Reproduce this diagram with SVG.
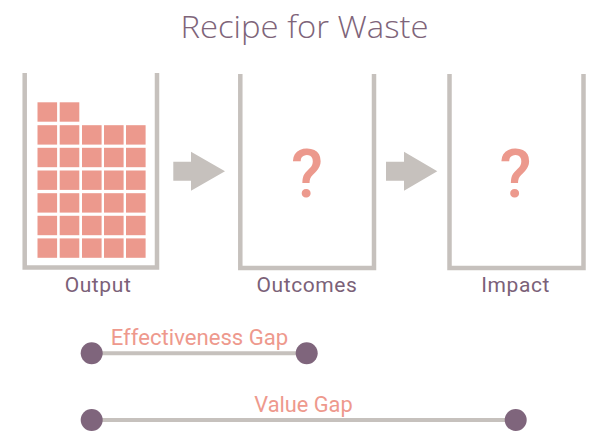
<svg xmlns="http://www.w3.org/2000/svg" width="615" height="444" viewBox="0 0 615 444">
<style>
.box{fill:none;stroke:#C6C1BD;stroke-width:4.5}
.sq{fill:#EC998D}
.arr{fill:#C6C1BD}
.lbl{font-family:Roboto,"Liberation Sans",sans-serif;font-size:21px;fill:#7B6178;text-anchor:middle;letter-spacing:0.6px;font-weight:400}
.q{font-family:Roboto,"Liberation Sans",sans-serif;font-size:66px;fill:#EC998D;text-anchor:middle;font-weight:500}
.gapt{font-family:Roboto,"Liberation Sans",sans-serif;font-size:22.5px;fill:#EE998D;font-weight:400}
.gl{stroke:#C6C1BD;stroke-width:4}
.dot{fill:#7F657C}
</style>
<rect width="615" height="444" fill="#FFFFFF"/>
<text x="304.5" y="37.7" font-family="'Open Sans',Lato,sans-serif" font-weight="300" font-size="31.5" fill="#7E6479" text-anchor="middle" textLength="248" lengthAdjust="spacingAndGlyphs">Recipe for Waste</text>

<g id="output">
<path class="box" d="M24.7,73 V267.5 H157 V73"/>
<g>
<rect class="sq" x="37.5" y="102.3" width="19.6" height="19.4"/>
<rect class="sq" x="59.7" y="102.3" width="19.6" height="19.4"/>
</g>
<g id="grid">
<rect class="sq" x="37.5" y="125.2" width="19.6" height="19.4"/><rect class="sq" x="59.7" y="125.2" width="19.6" height="19.4"/><rect class="sq" x="82" y="125.2" width="19.6" height="19.4"/><rect class="sq" x="104" y="125.2" width="19.6" height="19.4"/><rect class="sq" x="126" y="125.2" width="19.6" height="19.4"/>
<rect class="sq" x="37.5" y="147.8" width="19.6" height="19.4"/><rect class="sq" x="59.7" y="147.8" width="19.6" height="19.4"/><rect class="sq" x="82" y="147.8" width="19.6" height="19.4"/><rect class="sq" x="104" y="147.8" width="19.6" height="19.4"/><rect class="sq" x="126" y="147.8" width="19.6" height="19.4"/>
<rect class="sq" x="37.5" y="170.5" width="19.6" height="19.4"/><rect class="sq" x="59.7" y="170.5" width="19.6" height="19.4"/><rect class="sq" x="82" y="170.5" width="19.6" height="19.4"/><rect class="sq" x="104" y="170.5" width="19.6" height="19.4"/><rect class="sq" x="126" y="170.5" width="19.6" height="19.4"/>
<rect class="sq" x="37.5" y="193.2" width="19.6" height="19.4"/><rect class="sq" x="59.7" y="193.2" width="19.6" height="19.4"/><rect class="sq" x="82" y="193.2" width="19.6" height="19.4"/><rect class="sq" x="104" y="193.2" width="19.6" height="19.4"/><rect class="sq" x="126" y="193.2" width="19.6" height="19.4"/>
<rect class="sq" x="37.5" y="215.8" width="19.6" height="19.4"/><rect class="sq" x="59.7" y="215.8" width="19.6" height="19.4"/><rect class="sq" x="82" y="215.8" width="19.6" height="19.4"/><rect class="sq" x="104" y="215.8" width="19.6" height="19.4"/><rect class="sq" x="126" y="215.8" width="19.6" height="19.4"/>
<rect class="sq" x="37.5" y="238.4" width="19.6" height="19.4"/><rect class="sq" x="59.7" y="238.4" width="19.6" height="19.4"/><rect class="sq" x="82" y="238.4" width="19.6" height="19.4"/><rect class="sq" x="104" y="238.4" width="19.6" height="19.4"/><rect class="sq" x="126" y="238.4" width="19.6" height="19.4"/>
</g>
<text class="lbl" x="98" y="291.7">Output</text>
</g>

<g id="outcomes">
<path class="box" d="M240.3,74 V268 H374 V74"/>
<text class="q" x="307" y="197">?</text>
<text class="lbl" x="307" y="291.7">Outcomes</text>
</g>

<g id="impact">
<path class="box" d="M449.5,74 V268 H583.5 V74"/>
<text class="q" x="515.5" y="197">?</text>
<text class="lbl" x="515.7" y="291.7">Impact</text>
</g>

<g id="connectors">
<polygon class="arr" points="173.3,161.7 191,161.7 191,151.7 225,171.2 191,190.7 191,180.7 173.3,180.7"/>
<polygon class="arr" points="386,161.7 404,161.7 404,151.7 437.3,171.2 404,190.7 404,180.7 386,180.7"/>
</g>

<g id="effectiveness-gap">
<line class="gl" x1="91.7" y1="353.3" x2="306.7" y2="353.3"/>
<circle class="dot" cx="91.7" cy="353.3" r="11"/>
<circle class="dot" cx="306.7" cy="353.3" r="11"/>
<text class="gapt" x="110.7" y="345" textLength="177.6" lengthAdjust="spacingAndGlyphs">Effectiveness Gap</text>
</g>

<g id="value-gap">
<line class="gl" x1="91.7" y1="420" x2="515.7" y2="420"/>
<circle class="dot" cx="91.7" cy="420" r="11"/>
<circle class="dot" cx="515.7" cy="420" r="11"/>
<text class="gapt" x="254.3" y="411.7" textLength="98.4" lengthAdjust="spacingAndGlyphs">Value Gap</text>
</g>
</svg>
